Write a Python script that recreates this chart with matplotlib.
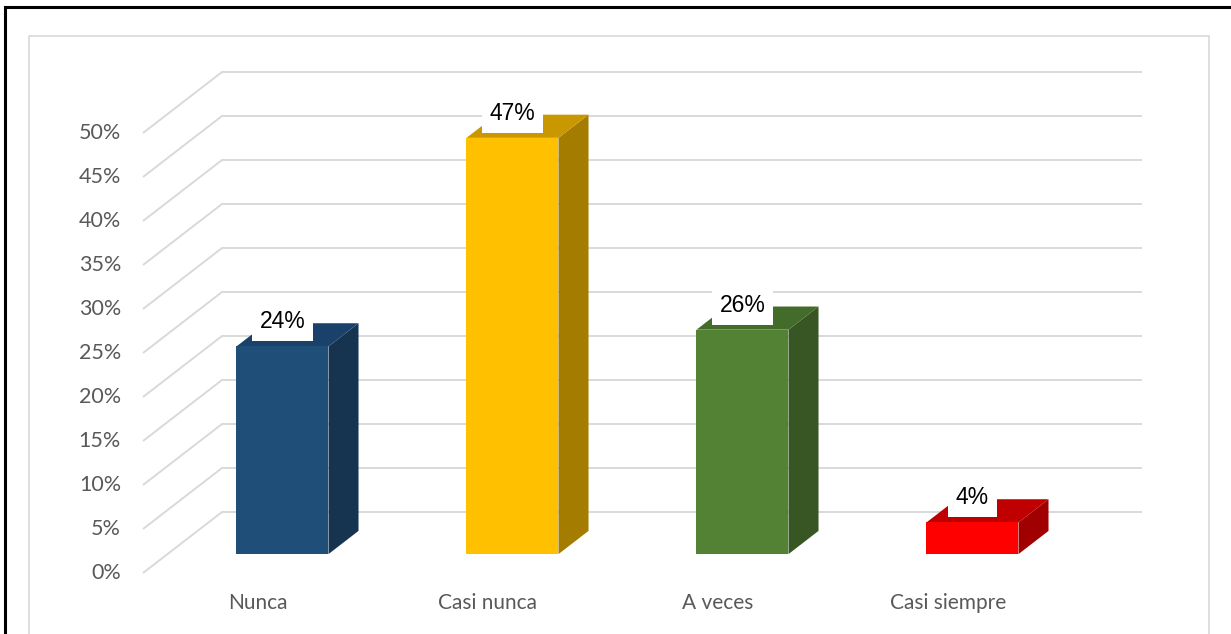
import numpy as np
import matplotlib
matplotlib.use("Agg")
from matplotlib import pyplot as plt
from matplotlib.patches import Polygon, Rectangle

# data
categories = ["Nunca", "Casi nunca", "A veces", "Casi siempre"]
values = [23.6, 47.3, 25.5, 3.6]          # percent
value_labels = ["24%", "47%", "26%", "4%"]
yticks = list(range(0, 55, 5))

front_cols = ["#1F4E79", "#FFC000", "#548235", "#FF0000"]
top_cols = ["#1A416A", "#C99700", "#436C2B", "#C00000"]
side_cols = ["#16334F", "#A47C00", "#375623", "#A00000"]

# oblique projection (depth 0..1 of the floor)
DX = 79 / 230
DY = 61 / 8.8
D0, D1 = 0.31, 0.69
HALF_W = 0.2


def proj(x, y, d):
    return (x + d * DX, y + d * DY)


fig = plt.figure(figsize=(12.31, 6.34), dpi=100)
ax = fig.add_axes([0, 0, 1, 1])
ax.set_xlim((0 - 143) / 230 - 0.5, (1231 - 143) / 230 - 0.5)
ax.set_ylim((573 - 634) / 8.8, 573 / 8.8)
ax.axis("off")

# frames
fig.patches.append(Rectangle((5 / 1231, -0.1), 1.2, 1 - 7 / 634 + 0.1, transform=fig.transFigure,
                             fill=False, ec="black", lw=2.2, zorder=0))
fig.patches.append(Rectangle((29 / 1231, -0.1), (1209 - 29) / 1231, 1 - 36 / 634 + 0.1,
                             transform=fig.transFigure, fill=False, ec="#D9D9D9", lw=1.2, zorder=0))

# gridlines (side wall + back wall)
x_left, x_right = -0.5, len(categories) - 0.5
for v in yticks:
    p0 = proj(x_left, v, 0)
    p1 = proj(x_left, v, 1)
    p2 = proj(x_right, v, 1)
    ax.plot([p0[0], p1[0], p2[0]], [p0[1], p1[1], p2[1]], color="#D9D9D9", lw=1.4,
            zorder=1, solid_capstyle="butt")
    ax.text(x_left - 22 / 230, v, f"{v}%", ha="right", va="center", fontsize=15.5,
            family="Lato", color="#595959")

# bars
for i, (v, lab) in enumerate(zip(values, value_labels)):
    l, r = i - HALF_W, i + HALF_W
    front = [proj(l, 0, D0), proj(r, 0, D0), proj(r, v, D0), proj(l, v, D0)]
    top = [proj(l, v, D0), proj(r, v, D0), proj(r, v, D1), proj(l, v, D1)]
    side = [proj(r, 0, D0), proj(r, 0, D1), proj(r, v, D1), proj(r, v, D0)]
    ax.add_patch(Polygon(side, closed=True, fc=side_cols[i], ec="none", zorder=2))
    ax.add_patch(Polygon(top, closed=True, fc=top_cols[i], ec="none", zorder=2))
    ax.add_patch(Polygon(front, closed=True, fc=front_cols[i], ec="none", zorder=3))

    lx, ly = proj(i, v, D0)
    ax.text(lx, ly + 2.8, lab, ha="center", va="center", fontsize=16.5,
            family="Liberation Sans", color="black", zorder=5,
            bbox=dict(boxstyle="square,pad=0.35", fc="white", ec="none"))

    ax.text(i, (573 - 603) / 8.8, categories[i], ha="center", va="center", fontsize=15,
            family="Lato", color="#595959")

fig.savefig("out.png", dpi=100)
